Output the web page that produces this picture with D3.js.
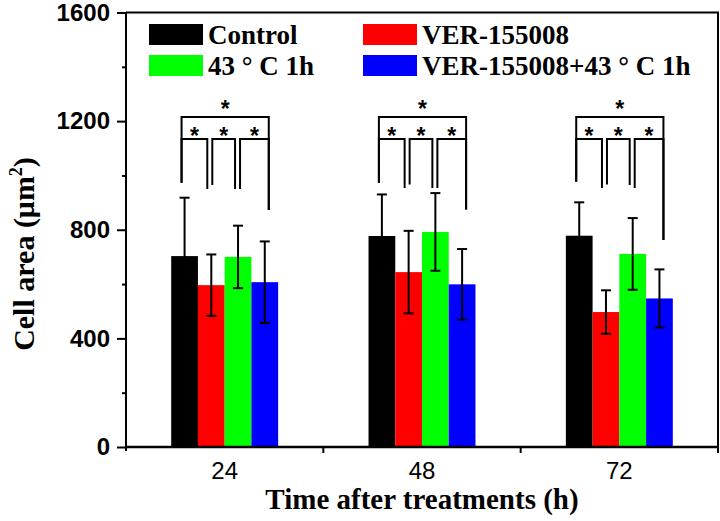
<!DOCTYPE html>
<html><head><meta charset="utf-8">
<script src="https://cdn.jsdelivr.net/npm/d3@7"></script>
<style>body{margin:0;background:#fff}svg{display:block}</style>
</head><body>
<svg id="chart" width="720" height="521"></svg>
<script>
const categories = ["24", "48", "72"];
const seriesNames = ["Control", "VER-155008", "43 ° C 1h", "VER-155008+43 ° C 1h"];
const seriesColors = ["#000000", "#ff0000", "#00ff00", "#0000ff"];
const controlMeans = [703, 777, 778];
const verMeans = [596, 644, 497];
const heatMeans = [700, 792, 711];
const comboMeans = [607, 599, 547];
const controlErr = [215, 153, 123];
const verErr = [113, 152, 80];
const heatErr = [115, 143, 132];
const comboErr = [150, 130, 107];
const yTicks = [0, 400, 800, 1200, 1600];
const yMinorTicks = [200, 600, 1000, 1400];
// significance brackets (value units)
const bracketPairs = [[0, 1], [1, 2], [2, 3], [0, 3]];
const innerLevel = 1134;
const outerLevel = 1215;
// leg ends per group: [L01, R01, L12, R12, L23, R23]
const legEnds = [
  [973, 950, 965, 950, 950, 873],
  [973, 954, 967, 954, 954, 875],
  [977, 954, 967, 965, 954, 762]
];

const means = [controlMeans, verMeans, heatMeans, comboMeans];
const errs = [controlErr, verErr, heatErr, comboErr];

const svg = d3.select("#chart");
const L = 126, R = 718, T = 12.5, B = 447;
const x = d3.scaleBand().domain(categories).range([L, R]).paddingInner(0.458).paddingOuter(0.229);
const xs = d3.scaleBand().domain(d3.range(seriesNames.length)).range([0, x.bandwidth()]).padding(0);
const y = d3.scaleLinear().domain([0, 1600]).range([B, T]);

// bars
categories.forEach((c, gi) => {
  const g = svg.append("g");
  seriesNames.forEach((s, si) => {
    g.append("rect")
      .attr("x", x(c) + xs(si))
      .attr("y", y(means[si][gi]))
      .attr("width", xs.bandwidth())
      .attr("height", y(0) - y(means[si][gi]))
      .attr("fill", seriesColors[si]);
  });
  // error bars
  seriesNames.forEach((s, si) => {
    const cx = x(c) + xs(si) + xs.bandwidth() / 2;
    const hi = y(means[si][gi] + errs[si][gi]);
    const lo = y(means[si][gi] - errs[si][gi]);
    g.append("line").attr("x1", cx).attr("x2", cx).attr("y1", hi).attr("y2", lo)
      .attr("stroke", "#000").attr("stroke-width", 2);
    [hi, lo].forEach(yy => g.append("line").attr("x1", cx - 5).attr("x2", cx + 5)
      .attr("y1", yy).attr("y2", yy).attr("stroke", "#000").attr("stroke-width", 2));
  });
  // brackets
  const legOff = [[-3, -4], [1, -3], [2, 4], [-3, 4]];
  const legIdx = [[0, 1], [2, 3], [4, 5], [0, 5]];
  bracketPairs.forEach((p, pi) => {
    const lvl = pi === 3 ? outerLevel : innerLevel;
    const xl = x(c) + xs(p[0]) + xs.bandwidth() / 2 + legOff[pi][0];
    const xr = x(c) + xs(p[1]) + xs.bandwidth() / 2 + legOff[pi][1];
    const yl = y(lvl);
    const pts = [[xl, y(legEnds[gi][legIdx[pi][0]])], [xl, yl], [xr, yl], [xr, y(legEnds[gi][legIdx[pi][1]])]];
    g.append("path").attr("d", d3.line()(pts)).attr("fill", "none")
      .attr("stroke", "#000").attr("stroke-width", 2);
    g.append("text").attr("x", (xl + xr) / 2).attr("y", yl + (pi === 3 ? -0.5 : 5))
      .attr("text-anchor", "middle").attr("font-family", "Liberation Sans, Arial, sans-serif")
      .attr("font-weight", "bold").attr("font-size", 23).text("*");
  });
});

// frame top and right
svg.append("line").attr("x1", L).attr("x2", R + 1).attr("y1", T).attr("y2", T).attr("stroke", "#000").attr("stroke-width", 2);
svg.append("line").attr("x1", R).attr("x2", R).attr("y1", T).attr("y2", B).attr("stroke", "#000").attr("stroke-width", 2);

// y axis
const yAxis = svg.append("g").attr("transform", `translate(${L},0)`)
  .call(d3.axisLeft(y).tickValues(yTicks).tickSize(9).tickPadding(7).tickFormat(d3.format("d")));
yAxis.select(".domain").attr("stroke-width", 2).attr("d", `M-0,${T}V${B + 4}`);
yAxis.selectAll(".tick line").attr("stroke-width", 2);
yAxis.selectAll("text").attr("font-family", "Liberation Sans, Arial, sans-serif")
  .attr("font-weight", "bold").attr("font-size", 24).attr("fill", "#000");
const yMinor = svg.append("g").attr("transform", `translate(${L},0)`)
  .call(d3.axisLeft(y).tickValues(yMinorTicks).tickSize(4).tickFormat(""));
yMinor.select(".domain").remove();
yMinor.selectAll(".tick line").attr("stroke-width", 2);

// x axis
const xAxis = svg.append("g").attr("transform", `translate(0,${B})`)
  .call(d3.axisBottom(x).tickSize(0).tickPadding(15));
xAxis.select(".domain").attr("stroke-width", 2.5).attr("d", `M${L},0H${R + 1}`);
xAxis.selectAll("text").attr("font-family", "Liberation Sans, Arial, sans-serif")
  .attr("font-size", 24).attr("fill", "#000");
categories.forEach(c => {
  const bx = x(c) + x.bandwidth() / 2 + x.step() / 2;
  svg.append("line").attr("x1", bx).attr("x2", bx).attr("y1", B).attr("y2", B + 6)
    .attr("stroke", "#000").attr("stroke-width", 2);
});

// axis titles
svg.append("text").attr("x", (L + R) / 2).attr("y", 509).attr("text-anchor", "middle")
  .attr("font-family", "Liberation Serif, Times New Roman, serif").attr("font-weight", "bold")
  .attr("font-size", 29).text("Time after treatments (h)");
const yt = svg.append("text").attr("transform", "translate(34,254) rotate(-90)").attr("text-anchor", "middle")
  .attr("font-family", "Liberation Serif, Times New Roman, serif").attr("font-weight", "bold")
  .attr("font-size", 30);
yt.append("tspan").text("Cell area (μm");
yt.append("tspan").attr("dy", -12).attr("font-size", 18).text("2");
yt.append("tspan").attr("dy", 12).text(")");

// legend
const legPos = [[149, 24], [363, 24], [149, 55], [363, 55]];
seriesNames.forEach((s, i) => {
  svg.append("rect").attr("x", legPos[i][0]).attr("y", legPos[i][1]).attr("width", 54).attr("height", 21)
    .attr("fill", seriesColors[i]);
  svg.append("text").attr("x", legPos[i][0] + 59).attr("y", legPos[i][1] + 20)
    .attr("font-family", "Liberation Serif, Times New Roman, serif").attr("font-weight", "bold")
    .attr("font-size", 27).text(s);
});
</script>
</body></html>
